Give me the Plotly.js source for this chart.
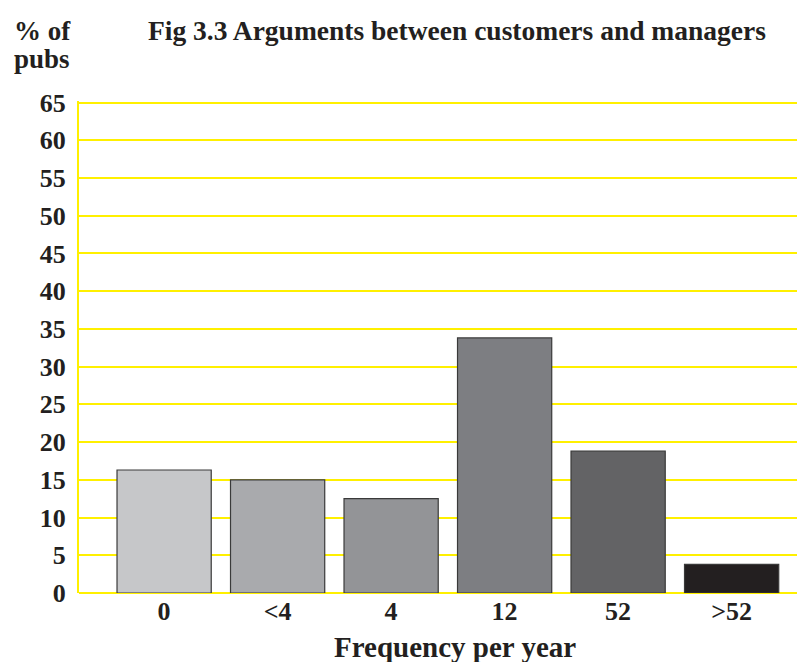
<!DOCTYPE html>
<html>
<head>
<meta charset="utf-8">
<script src="https://cdn.plot.ly/plotly-3.0.1.min.js"></script>
<style>html,body{margin:0;padding:0;background:#fff;}#chart{width:797px;height:662px;}</style>
</head>
<body>
<div id="chart"></div>
<script>
var categories = ["0", "<4", "4", "12", "52", ">52"];
var values = [16.3, 15.0, 12.5, 33.8, 18.8, 3.8];
var barColors = ["#c6c7c9", "#a9aaad", "#939497", "#7d7e82", "#636365", "#231f20"];
var yTicks = [0, 5, 10, 15, 20, 25, 30, 35, 40, 45, 50, 55, 60, 65];

var font = "Liberation Serif, Times New Roman, serif";
var ink = "#231f20";

function esc(s){ return s.replace(/</g, "&lt;").replace(/>/g, "&gt;"); }

var trace = {
  type: "bar",
  x: categories,
  y: values,
  marker: {color: barColors, line: {color: "#3a3a3a", width: 1.2}},
  hoverinfo: "x+y"
};

var layout = {
  width: 797, height: 662,
  margin: {l: 79, r: 0, t: 100.5, b: 69},
  paper_bgcolor: "#ffffff",
  plot_bgcolor: "#ffffff",
  showlegend: false,
  bargap: 0.17,
  font: {family: font, color: ink},
  xaxis: {
    type: "category",
    range: [-0.75, 5.576],
    tickvals: categories,
    ticktext: categories.map(function(c){ return "<b>" + esc(c) + "</b>"; }),
    showgrid: false,
    zeroline: false,
    showline: false,
    ticks: "",
    tickfont: {family: font, size: 26, color: ink},
    ticklabelstandoff: 0
  },
  yaxis: {
    range: [0, 65.2],
    tickvals: yTicks,
    ticktext: yTicks.map(function(v){ return "<b>" + v + "</b>"; }),
    showgrid: true,
    gridcolor: "#fff000",
    gridwidth: 2,
    zeroline: true,
    zerolinecolor: "#fff000",
    zerolinewidth: 2,
    showline: true,
    linecolor: "#fff000",
    linewidth: 2,
    ticks: "",
    ticklabelstandoff: 6,
    tickfont: {family: font, size: 26, color: ink}
  },
  annotations: [
    {
      text: "<b>Fig 3.3 Arguments between customers and managers</b>",
      xref: "paper", yref: "paper", x: 0.5258, y: 1.1432,
      xanchor: "center", yanchor: "middle", showarrow: false,
      font: {family: font, size: 27.5, color: ink}
    },
    {
      text: "<b>% of</b>",
      xref: "paper", yref: "paper", x: -0.0933, y: 1.1432,
      xanchor: "left", yanchor: "middle", showarrow: false,
      font: {family: font, size: 27, color: ink}
    },
    {
      text: "<b>pubs</b>",
      xref: "paper", yref: "paper", x: -0.0933, y: 1.0863,
      xanchor: "left", yanchor: "middle", showarrow: false,
      font: {family: font, size: 27, color: ink}
    },
    {
      text: "<b>Frequency per year</b>",
      xref: "paper", yref: "paper", x: 0.5237, y: -0.1096,
      xanchor: "center", yanchor: "middle", showarrow: false,
      font: {family: font, size: 29, color: ink}
    }
  ]
};

Plotly.newPlot("chart", [trace], layout, {displayModeBar: false, staticPlot: true});
</script>
</body>
</html>
